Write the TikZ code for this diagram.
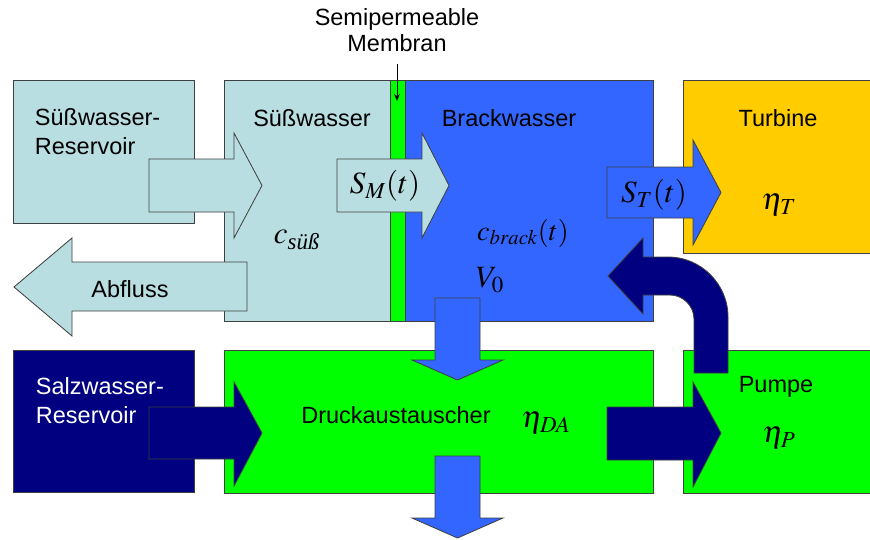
\documentclass[tikz,border=0pt]{standalone}
\usepackage{amsmath}
\usepackage{mathptmx}
\usepackage{fontspec}
\setmainfont{Liberation Sans}
\newfontfamily\timesfont{Liberation Serif}
\usetikzlibrary{arrows.meta}
\usepackage{xcolor}

\definecolor{suess}{RGB}{185,222,225}
\definecolor{brack}{RGB}{51,102,255}
\definecolor{membran}{RGB}{0,255,0}
\definecolor{turbin}{RGB}{255,204,0}
\definecolor{salz}{RGB}{0,0,128}

\begin{document}
\begin{tikzpicture}[
  x=0.025cm, y=-0.025cm,
  >=Stealth,
  every node/.style={font=\fontsize{16.7}{20.6}\selectfont},
  box/.style={draw=black!75, line width=0.6pt},
  sym/.style={font=\fontsize{22}{26}\selectfont, inner sep=0pt}
]
\useasboundingbox (0,0) rectangle (870,540);

% Parameters (in pixel units)
\def\L{13}     % left edge of first column
\def\R{875}    % right edge of last column (runs off the page)
\def\Ta{80}    % top of upper row
\def\Tb{350}   % top of lower row

% --- Upper row of boxes ---
\filldraw[box, fill=suess] (\L,\Ta) rectangle (194,223);
\filldraw[box, fill=suess] (224,\Ta) rectangle (390,321);
\filldraw[box, fill=membran] (390,\Ta) rectangle (405,321);
\filldraw[box, fill=brack] (405,\Ta) rectangle (653,321);
\filldraw[box, fill=turbin] (683,\Ta) rectangle (\R,253);

% --- Lower row of boxes ---
\filldraw[box, fill=salz] (\L,\Tb) rectangle (194,492);
\filldraw[box, fill=membran] (224,\Tb) rectangle (653,493);
\filldraw[box, fill=membran] (683,\Tb) rectangle (\R,493);

% --- Block arrows, upper row ---
\filldraw[box, fill=suess] (149,159) -- (234,159) -- (234,133) -- (262,185.5)
  -- (234,238) -- (234,212) -- (149,212) -- cycle;
\filldraw[box, fill=suess] (337,159) -- (422,159) -- (422,133) -- (449,185.5)
  -- (422,238) -- (422,212) -- (337,212) -- cycle;
\filldraw[box, fill=suess] (247,262) -- (72,262) -- (72,238) -- (14,287)
  -- (72,336) -- (72,311) -- (247,311) -- cycle;
\filldraw[box, fill=brack] (607,167) -- (693,167) -- (693,140) -- (721,192.5)
  -- (693,245) -- (693,218) -- (607,218) -- cycle;

% --- Block arrows, lower row ---
\filldraw[box, fill=salz] (149,407) -- (234,407) -- (234,382) -- (262,433)
  -- (234,486) -- (234,459) -- (149,459) -- cycle;
\filldraw[box, fill=salz] (607,407) -- (693,407) -- (693,382) -- (721,433)
  -- (693,487) -- (693,460) -- (607,460) -- cycle;

% --- Down arrows through the exchanger ---
\filldraw[box, fill=brack] (435,298) -- (480,298) -- (480,360) -- (503,360)
  -- (457.5,380) -- (412,360) -- (435,360) -- cycle;
\filldraw[box, fill=brack] (435,456) -- (480,456) -- (480,518) -- (503,518)
  -- (457.5,538) -- (412,518) -- (435,518) -- cycle;

% --- Return arrow from the pump ---
\filldraw[box, fill=salz] (694,373) -- (728,373) -- (728,317)
  .. controls (728,284) and (701,257) .. (668,257) -- (643,257) -- (643,238)
  -- (608,276) -- (643,314) -- (643,295) -- (670,295)
  .. controls (683,295) and (694,306) .. (694,319) -- cycle;

% --- Membrane label ---
\node (memtxt) at (397,33) {\begin{tabular}{@{}c@{}}Semipermeable\\[-2pt] Membran\end{tabular}};
\coordinate (memtip) at (397,101);
\draw[->, line width=0.5pt, >={Stealth[length=5pt,width=4pt]}] (397,64) -- (memtip);

% --- Labels ---
\node[anchor=west, align=left] (srtxt) at (30,132) {Süßwasser-\\Reservoir};
\node (swtxt) at (312,118) {Süßwasser};
\node (bwtxt) at (509,118) {Brackwasser};
\node (tutxt) at (778,118) {Turbine};
\node (abtxt) at (130,289) {Abfluss};
\node[anchor=west, align=left, text=white] (sztxt) at (31,401) {Salzwasser-\\Reservoir};
\node (datxt) at (396,415) {Druckaustauscher};
\node (putxt) at (776,387) {Pumpe};

% --- Symbols ---
\node[sym] (sm) at (385,186) {$S_M(t)$};
\node[sym] (csu) at (297,240) {$c_{\text{\timesfont\itshape süß}}$};
\node[sym, font=\fontsize{20}{24}\selectfont] (cbr) at (523,233) {$c_{brack}(t)$};
\node[sym] (vnull) at (490,280) {$V_0$};
\node[sym] (st) at (654,195) {$S_T(t)$};
\node[sym] (etat) at (779,205) {$\eta_T$};
\node[sym] (etada) at (546,423) {$\eta_{DA}$};
\node[sym] (etap) at (779,438) {$\eta_P$};

\end{tikzpicture}
\end{document}
